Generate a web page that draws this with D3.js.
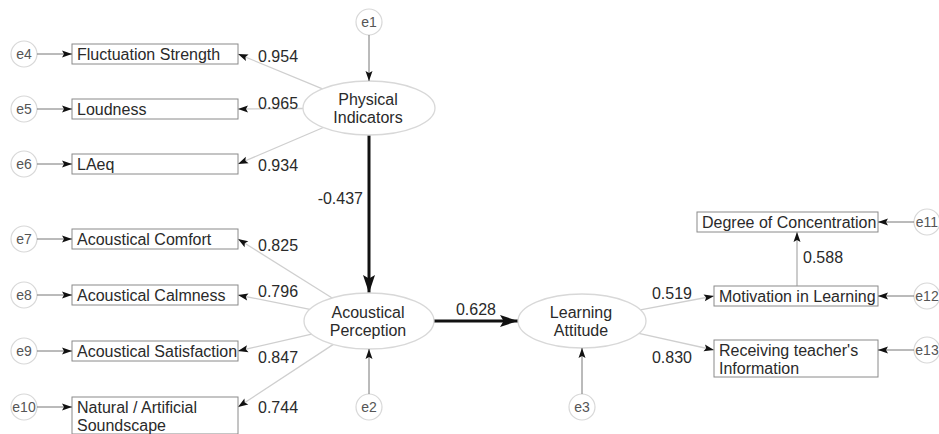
<!DOCTYPE html>
<html>
<head>
<meta charset="utf-8">
<script src="https://cdn.jsdelivr.net/npm/d3@7"></script>
<style>
  body { margin: 0; background: #fff; }
  text { font-family: "Liberation Sans", Arial, sans-serif; }
</style>
</head>
<body>
<div id="chart"></div>
<script>
var width = 939, height = 434;

// latent variables and their disturbances
var latents = ['Physical\nIndicators', 'Acoustical\nPerception', 'Learning\nAttitude'];
var latentErrors = ['e1', 'e2', 'e3'];

// structural paths: Physical -> Perception, Perception -> Learning
var structFrom = [0, 1];
var structTo = [1, 2];
var structCoef = [-0.437, 0.628];

// measurement model of Physical Indicators
var physItems = ['Fluctuation Strength', 'Loudness', 'LAeq'];
var physLoad = [0.954, 0.965, 0.934];
var physErr = ['e4', 'e5', 'e6'];

// measurement model of Acoustical Perception
var percItems = ['Acoustical Comfort', 'Acoustical Calmness', 'Acoustical Satisfaction', 'Natural / Artificial\nSoundscape'];
var percLoad = [0.825, 0.796, 0.847, 0.744];
var percErr = ['e7', 'e8', 'e9', 'e10'];

// measurement model of Learning Attitude
var learnItems = ['Motivation in Learning', "Receiving teacher's\nInformation"];
var learnLoad = [0.519, 0.830];
var learnErr = ['e12', 'e13'];

// Motivation -> Degree of Concentration
var subItem = 'Degree of Concentration';
var subCoef = 0.588;
var subErr = 'e11';

// plain hyphen for negatives, like the original
var fmt = d3.formatLocale({decimal: '.', thousands: ',', grouping: [3], currency: ['', ''], minus: '-'}).format('.3f');

var svg = d3.select('#chart').append('svg')
  .attr('width', width)
  .attr('height', height);

// ---- layout ----
var latPos = [
  {cx: 369, cy: 108, rx: 66, ry: 27},
  {cx: 369, cy: 321, rx: 65, ry: 28},
  {cx: 582, cy: 321, rx: 64, ry: 27}
];
var leftX = 72, leftW = 166, errLeftX = 24, errR = 13;
var rightX = 714, rightW = 164, errRightX = 927;
var physY = d3.scalePoint().domain(physItems).range([44, 154]);
var percY = d3.scalePoint().domain(percItems).range([229, 397]);
var learnY = d3.scalePoint().domain(learnItems).range([286, 340]);
var subY = 212, subX = 697, subW = 181;
var physLabelDy = [2, -6, 1];
var percLabelDy = [6, -4, 6, 0];
var learnLabelDy = [-3, 7];

function lines(s) { return s.split('\n'); }
function boxH(s) { return 20 + (lines(s).length - 1) * 17; }

function onEllipse(e, px, py) {
  var dx = px - e.cx, dy = py - e.cy;
  var t = 1 / Math.sqrt((dx / e.rx) * (dx / e.rx) + (dy / e.ry) * (dy / e.ry));
  return [e.cx + dx * t, e.cy + dy * t];
}

function head(x1, y1, x2, y2, len, w) {
  var a = Math.atan2(y2 - y1, x2 - x1), c = Math.cos(a), s = Math.sin(a);
  var bx = x2 - len * c, by = y2 - len * s;
  var nx = x2 - len * 0.8 * c, ny = y2 - len * 0.8 * s;
  svg.append('path')
    .attr('d', 'M' + x2 + ',' + y2 + 'L' + (bx + w * s) + ',' + (by - w * c) +
      'L' + nx + ',' + ny + 'L' + (bx - w * s) + ',' + (by + w * c) + 'Z')
    .attr('fill', '#111');
}

function arrow(x1, y1, x2, y2, color, sw, len, w) {
  svg.append('line')
    .attr('x1', x1).attr('y1', y1).attr('x2', x2).attr('y2', y2)
    .attr('stroke', color).attr('stroke-width', sw);
  head(x1, y1, x2, y2, len, w);
}

function box(x, y, w, label) {
  svg.append('rect')
    .attr('x', x).attr('y', y).attr('width', w).attr('height', boxH(label))
    .attr('fill', '#fff').attr('stroke', '#8a8a8a').attr('stroke-width', 1);
  var t = svg.append('text').attr('font-size', 16).attr('fill', '#2a2a2a');
  lines(label).forEach(function(l, i) {
    t.append('tspan').attr('x', x + 5).attr('y', y + 15.5 + i * 18).text(l);
  });
}

function errCircle(cx, cy, label) {
  svg.append('circle').attr('cx', cx).attr('cy', cy).attr('r', errR)
    .attr('fill', '#fff').attr('stroke', '#d8d8d8').attr('stroke-width', 1.2);
  svg.append('text').attr('x', cx).attr('y', cy + 5)
    .attr('text-anchor', 'middle').attr('font-size', 14).attr('fill', '#555')
    .text(label);
}

function coef(x, y, v, anchor) {
  svg.append('text').attr('x', x).attr('y', y + 5.5)
    .attr('text-anchor', anchor).attr('font-size', 16).attr('fill', '#2a2a2a')
    .text(fmt(v));
}

// ---- left indicator blocks ----
function leftBlock(items, loads, errs, yScale, lat, dys) {
  items.forEach(function(name, i) {
    var y = yScale(name), ay = y + 10;
    var p = onEllipse(lat, leftX + leftW, ay);
    arrow(p[0], p[1], leftX + leftW, ay, '#cfcfcf', 1.3, 10, 3.5);
    box(leftX, y, leftW, name);
    errCircle(errLeftX, ay, errs[i]);
    arrow(errLeftX + errR, ay, leftX, ay, '#777', 1, 10, 3.5);
    coef(leftX + leftW + 20, ay + dys[i], loads[i], 'start');
  });
}
leftBlock(physItems, physLoad, physErr, physY, latPos[0], physLabelDy);
leftBlock(percItems, percLoad, percErr, percY, latPos[1], percLabelDy);

// ---- right indicator block ----
learnItems.forEach(function(name, i) {
  var y = learnY(name), ay = y + 10;
  var p = onEllipse(latPos[2], rightX, ay);
  arrow(p[0], p[1], rightX, ay, '#cfcfcf', 1.3, 10, 3.5);
  box(rightX, y, rightW, name);
  errCircle(errRightX, ay, learnErr[i]);
  arrow(errRightX - errR, ay, rightX + rightW, ay, '#777', 1, 10, 3.5);
  coef(rightX - 22, ay + learnLabelDy[i], learnLoad[i], 'end');
});

// Motivation -> Degree of Concentration
var subAx = 797;
arrow(subAx, learnY(learnItems[0]), subAx, subY + 20, '#999', 1, 10, 3.5);
box(subX, subY, subW, subItem);
errCircle(errRightX, subY + 10, subErr);
arrow(errRightX - errR, subY + 10, subX + subW, subY + 10, '#777', 1, 10, 3.5);
coef(subAx + 6, 257, subCoef, 'start');

// ---- structural paths ----
structFrom.forEach(function(f, i) {
  var a = latPos[f], b = latPos[structTo[i]];
  var p1 = onEllipse(a, b.cx, b.cy), p2 = onEllipse(b, a.cx, a.cy);
  arrow(p1[0], p1[1], p2[0], p2[1], '#111', 3, 18, 6);
});
coef(363, 198, structCoef[0], 'end');
coef((latPos[1].cx + latPos[1].rx + latPos[2].cx - latPos[2].rx) / 2, 309, structCoef[1], 'middle');

// ---- latent ellipses ----
latPos.forEach(function(e, i) {
  svg.append('ellipse')
    .attr('cx', e.cx).attr('cy', e.cy).attr('rx', e.rx).attr('ry', e.ry)
    .attr('fill', 'none').attr('stroke', '#d8d8d8').attr('stroke-width', 1.3);
  var t = svg.append('text').attr('text-anchor', 'middle')
    .attr('font-size', 16).attr('fill', '#2a2a2a');
  lines(latents[i]).forEach(function(l, j) {
    t.append('tspan').attr('x', e.cx - 1).attr('y', e.cy - 3 + j * 18).text(l);
  });
});

// disturbances of latent variables
var e1y = 22, e23y = 407;
errCircle(latPos[0].cx, e1y, latentErrors[0]);
arrow(latPos[0].cx, e1y + errR, latPos[0].cx, latPos[0].cy - latPos[0].ry, '#777', 1, 10, 3.5);
[1, 2].forEach(function(k) {
  var e = latPos[k];
  errCircle(e.cx, e23y, latentErrors[k]);
  arrow(e.cx, e23y - errR, e.cx, e.cy + e.ry, '#777', 1, 10, 3.5);
});
</script>
</body>
</html>
